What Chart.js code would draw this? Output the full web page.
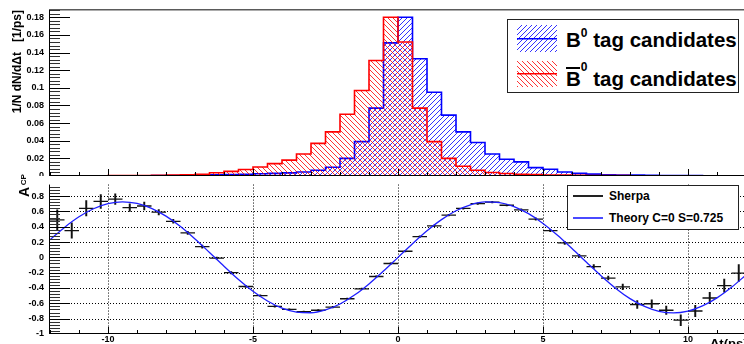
<!DOCTYPE html>
<html><head><meta charset="utf-8">
<script src="https://cdn.jsdelivr.net/npm/chart.js@4.4.1/dist/chart.umd.min.js"></script>
<style>
html,body{margin:0;padding:0;background:#fff;overflow:hidden;}
#wrap{position:relative;width:744px;height:344px;overflow:hidden;background:#fff;}
#cTop,#cBot{position:absolute;left:0;}
#cTop{top:0;}
#cBot{top:176px;}
.f{font-family:'Liberation Sans',Arial,Helvetica,sans-serif;font-weight:bold;color:#000;}
#lg1{position:absolute;left:507px;top:19px;width:232px;height:74px;border:1px solid #222;box-sizing:border-box;background:#fff;}
#lg1 canvas{position:absolute;}
.lt{position:absolute;white-space:nowrap;font-size:20.5px;line-height:20.5px;}
.sup{position:relative;font-size:12px;}
#lg2{position:absolute;left:567px;top:185px;width:172px;height:45px;border:1px solid #222;box-sizing:border-box;background:#fff;}
.sw{position:absolute;}
.lt2{position:absolute;white-space:nowrap;font-size:12px;line-height:14px;}
#acp{position:absolute;left:16.5px;top:196.7px;transform-origin:0 0;transform:rotate(-90deg);font-size:14px;line-height:14px;white-space:nowrap;}
#xt{position:absolute;left:710px;top:336.6px;font-size:13px;line-height:13px;white-space:nowrap;}
</style></head><body>
<div id="wrap">
<canvas id="cTop" width="760" height="176"></canvas>
<canvas id="cBot" width="760" height="168"></canvas>
<div id="lg1" class="f">
 <canvas id="sw1" width="40" height="27" style="left:9px;top:5px"></canvas>
 <canvas id="sw2" width="40" height="26" style="left:9px;top:41px"></canvas>
 <div class="lt" style="left:58px;top:10.15px">B<span class="sup" style="top:-9.8px">0</span> tag candidates</div>
 <div class="lt" style="left:58px;top:49.15px"><span style="position:relative">B<span style="position:absolute;left:0;right:1px;top:0;height:2px;background:#000"></span></span><span class="sup" style="top:-14.8px">0</span> tag candidates</div>
</div>
<div id="lg2" class="f">
 <div class="sw" style="left:4.7px;top:9px;width:30.3px;height:1.5px;background:#222"></div>
 <div class="sw" style="left:4.7px;top:31.3px;width:30.3px;height:2px;background:#4a4aff"></div>
 <div class="lt2" style="left:41px;top:2.7px">Sherpa</div>
 <div class="lt2" style="left:41px;top:25.3px">Theory C=0 S=0.725</div>
</div>
<div id="acp" class="f">A<span style="font-size:8px;position:relative;top:-3.3px;margin-left:1.5px">CP</span></div>
<div id="xt" class="f">Δt(ps)</div>
</div>
<script>
const FONT = "'Liberation Sans', Arial, Helvetica, sans-serif";

// histogram bin edges (ps)
const binEdges = [-12,-11.5,-11,-10.5,-10,-9.5,-9,-8.5,-8,-7.5,-7,-6.5,-6,-5.5,-5,-4.5,-4,-3.5,-3,-2.5,-2,-1.5,-1,-0.5,0,0.5,1,1.5,2,2.5,3,3.5,4,4.5,5,5.5,6,6.5,7,7.5,8,8.5,9,9.5,10,10.5,11,11.5,12];
// B0 tag candidates (1/N dN/dDt)
const b0Tag = [0.0001,0.0001,0.0001,0.0001,0.0002,0.0002,0.0003,0.0004,0.0006,0.0008,0.001,0.0013,0.0016,0.002,0.0025,0.003,0.0036,0.0045,0.0065,0.010,0.020,0.039,0.077,0.151,
               0.180,0.133,0.095,0.069,0.050,0.038,0.025,0.019,0.016,0.0095,0.0076,0.0045,0.003,0.0021,0.0015,0.0012,0.001,0.0008,0.0006,0.0005,0.0004,0.0003,0.0002,0.0002];
// B0bar tag candidates
const b0barTag = [0.0002,0.0002,0.0003,0.0003,0.0004,0.0005,0.0006,0.0008,0.001,0.0014,0.002,0.0037,0.0053,0.0074,0.0102,0.014,0.018,0.025,0.037,0.050,0.070,0.097,0.131,0.180,
                  0.152,0.077,0.039,0.020,0.011,0.0065,0.004,0.0028,0.002,0.0016,0.0012,0.001,0.0008,0.0006,0.0005,0.0004,0.0003,0.0003,0.0002,0.0002,0.0001,0.0001,0.0001,0.0001];
const topTickLabels = [0,0.02,0.04,0.06,0.08,0.1,0.12,0.14,0.16,0.18];

// A_CP (Sherpa) points
const acpCenters = [-11.75,-11.25,-10.75,-10.25,-9.75,-9.25,-8.75,-8.25,-7.75,-7.25,-6.75,-6.25,-5.75,-5.25,-4.75,-4.25,-3.75,-3.25,-2.75,-2.25,-1.75,-1.25,-0.75,-0.25,
                    0.25,0.75,1.25,1.75,2.25,2.75,3.25,3.75,4.25,4.75,5.25,5.75,6.25,6.75,7.25,7.75,8.25,8.75,9.25,9.75,10.25,10.75,11.25,11.75];
const acpSherpa = [0.49,0.35,0.64,0.73,0.76,0.65,0.67,0.59,0.47,0.32,0.14,-0.01,-0.20,-0.38,-0.50,-0.64,-0.68,-0.71,-0.69,-0.65,-0.54,-0.41,-0.25,-0.08,
                   0.08,0.27,0.41,0.55,0.64,0.70,0.72,0.68,0.62,0.50,0.35,0.19,0.02,-0.12,-0.27,-0.385,-0.615,-0.605,-0.69,-0.82,-0.70,-0.53,-0.37,-0.205];
const acpSherpaErr = [0.13,0.10,0.10,0.09,0.07,0.05,0.05,0.035,0.025,0.02,0.02,0.015,0.015,0.012,0.01,0.01,0.01,0.01,0.01,0.01,0.01,0.01,0.01,0.01,
                      0.01,0.01,0.01,0.01,0.01,0.01,0.01,0.01,0.012,0.015,0.015,0.02,0.02,0.025,0.025,0.035,0.05,0.05,0.055,0.07,0.075,0.075,0.085,0.11];
// Theory C=0 S=0.725 curve
const theoryT = [-12,-11.5,-11,-10.5,-10,-9.5,-9,-8.5,-8,-7.5,-7,-6.5,-6,-5.5,-5,-4.5,-4,-3.5,-3,-2.5,-2,-1.5,-1,-0.5,0,
                 0.5,1,1.5,2,2.5,3,3.5,4,4.5,5,5.5,6,6.5,7,7.5,8,8.5,9,9.5,10,10.5,11,11.5,12];
const theoryA = [0.229,0.391,0.529,0.634,0.701,0.725,0.704,0.640,0.538,0.402,0.240,0.064,-0.115,-0.289,-0.443,-0.570,-0.663,-0.715,-0.723,-0.686,-0.608,-0.492,-0.346,-0.178,0,
                 0.178,0.346,0.492,0.608,0.686,0.723,0.715,0.663,0.570,0.443,0.289,0.115,-0.064,-0.240,-0.402,-0.538,-0.640,-0.704,-0.725,-0.701,-0.634,-0.529,-0.391,-0.229];
const botTickLabels = [-1,-0.8,-0.6,-0.4,-0.2,0,0.2,0.4,0.6,0.8];
const xTickLabels = [-10,-5,0,5,10];

function hatch(g, color, dir){
  const s=5, c=document.createElement('canvas'); c.width=s; c.height=s;
  const h=c.getContext('2d'); h.fillStyle=color;
  for(let i=0;i<s;i++) h.fillRect(i, dir>0 ? s-1-i : i, 1, 1);
  return g.createPattern(c,'repeat');
}
function steps(vals){
  const d = vals.map((v,i)=>({x:binEdges[i], y:v}));
  d.push({x:binEdges[binEdges.length-1], y:vals[vals.length-1]});
  return d;
}
function swatch(id,color,line,dir){
  const c=document.getElementById(id), g=c.getContext('2d');
  g.fillStyle=hatch(g,color,dir); g.fillRect(0,0,c.width,c.height);
  g.fillStyle=line; g.fillRect(0,Math.round(c.height/2)-1,c.width,1.5);
}
const BLUE_H='rgba(0,0,255,0.8)', RED_H='rgba(255,0,0,0.8)';
swatch('sw1',BLUE_H,'#0000ff',1); swatch('sw2',RED_H,'#ff0000',-1);

function drawYTicks(ctx,a,y,step,max){
  for(let k=0;;k++){
    const v=y.min+k*step; if(v>max+1e-9) break;
    const py=Math.round(y.getPixelForValue(v));
    if(py>=a.bottom-1) continue;
    const major=(k%5===0);
    ctx.fillStyle=major?'#000':'#333';
    ctx.fillRect(a.left, py, major?20:10, 1);
  }
}
function drawXTicks(ctx,a,x){
  for(let t=-12;t<=12;t++){
    const px=Math.round(x.getPixelForValue(t));
    const major=(t%5===0);
    const len=major?6:3;
    ctx.fillStyle='#000';
    ctx.fillRect(px, a.bottom-1-len, 1, len);
  }
}

const topAxes = {
  id:'topAxes',
  afterDatasetsDraw(chart){
    const {ctx, chartArea:a, scales:{x,y}} = chart;
    ctx.save();
    ctx.fillStyle='#5a5a5a';
    ctx.fillRect(a.left-1, a.top-1, a.right-a.left+2, 1.5);
    ctx.fillStyle='#000';
    ctx.fillRect(a.left-1, a.top, 1, a.bottom-a.top);
    ctx.fillRect(a.left-1, a.bottom-1, a.right-a.left+1, 1);
    drawYTicks(ctx,a,y,0.004,0.1883);
    drawXTicks(ctx,a,x);
    ctx.restore();
  }
};
const botAxes = {
  id:'botAxes',
  beforeDatasetsDraw(chart){
    const {ctx, chartArea:a, scales:{x,y}} = chart;
    ctx.save(); ctx.strokeStyle='#000'; ctx.lineWidth=1; ctx.setLineDash([1,2]);
    for(const v of botTickLabels){
      if(v<=-1) continue;
      const py=Math.round(y.getPixelForValue(v))+0.5;
      ctx.beginPath(); ctx.moveTo(a.left,py); ctx.lineTo(a.right,py); ctx.stroke();
    }
    for(const v of xTickLabels){
      const px=Math.round(x.getPixelForValue(v))+0.5;
      ctx.beginPath(); ctx.moveTo(px,a.top); ctx.lineTo(px,a.bottom); ctx.stroke();
    }
    ctx.restore();
  },
  afterDatasetsDraw(chart){
    const {ctx, chartArea:a, scales:{x,y}} = chart;
    ctx.save();
    ctx.fillStyle='#000';
    ctx.fillRect(a.left-1, a.top, 1, a.bottom-a.top);
    ctx.fillRect(a.left-1, a.bottom-1, a.right-a.left+1, 1);
    drawYTicks(ctx,a,y,0.04,0.95);
    drawXTicks(ctx,a,x);
    ctx.restore();
  }
};

const cTop=document.getElementById('cTop');
const gTop=cTop.getContext('2d');
new Chart(cTop,{
  type:'line',
  data:{datasets:[
    {label:'B0 tag candidates', data:steps(b0Tag), stepped:true, borderColor:'#0000ff', borderWidth:1.6,
     backgroundColor:hatch(gTop,BLUE_H,1), fill:'origin', pointRadius:0, order:1},
    {label:'B0bar tag candidates', data:steps(b0barTag), stepped:true, borderColor:'#ff0000', borderWidth:1.6,
     backgroundColor:hatch(gTop,RED_H,-1), fill:'origin', pointRadius:0, order:0}
  ]},
  options:{
    responsive:false, animation:false, events:[],
    layout:{padding:{top:10,right:14,bottom:0,left:0}},
    plugins:{legend:{display:false}, tooltip:{enabled:false}},
    scales:{
      x:{type:'linear', min:-12, max:12, display:false},
      y:{type:'linear', min:0, max:0.1883,
        afterBuildTicks:s=>{s.ticks=topTickLabels.map(v=>({value:v}));},
        ticks:{color:'#000', font:{family:FONT,size:9,weight:'bold'}, padding:6, callback:v=>String(+(+v).toFixed(2))},
        grid:{display:false, drawTicks:false}, border:{display:false},
        title:{display:true, text:'1/N dN/d\u0394t   [1/ps]', align:'end', color:'#000',
               font:{family:FONT,size:12,weight:'bold'}, padding:{top:10,bottom:0}},
        afterFit:s=>{s.width=50; s.paddingTop=0; s.paddingBottom=0;}
      }
    }
  },
  plugins:[topAxes]
});

const cBot=document.getElementById('cBot');
new Chart(cBot,{
  type:'line',
  data:{datasets:[
    {type:'line', label:'Theory C=0 S=0.725', data:theoryT.map((t,i)=>({x:t,y:theoryA[i]})),
     borderColor:'#1f1fff', borderWidth:1.3, pointRadius:0, cubicInterpolationMode:'monotone', fill:false, order:0},
    {type:'line', label:'Sherpa', data:acpCenters.map((t,i)=>({x:t,y:acpSherpa[i]})), showLine:false,
     pointStyle:'line', pointRadius:7.25, pointBorderWidth:1.3, pointBorderColor:'#111', pointBackgroundColor:'#111', order:1},
    {type:'bar', label:'Sherpa errors', data:acpCenters.map((t,i)=>({x:t,y:[acpSherpa[i]-acpSherpaErr[i],acpSherpa[i]+acpSherpaErr[i]]})),
     backgroundColor:'#111', borderWidth:0, barThickness:1.3, order:2}
  ]},
  options:{
    responsive:false, animation:false, events:[],
    layout:{padding:{top:0,right:14,bottom:0,left:0}},
    plugins:{legend:{display:false}, tooltip:{enabled:false}},
    scales:{
      x:{type:'linear', min:-12, max:12, offset:false,
        afterBuildTicks:s=>{s.ticks=xTickLabels.map(v=>({value:v}));},
        ticks:{color:'#000', font:{family:FONT,size:9,weight:'bold'}, padding:0, maxRotation:0, autoSkip:false, callback:v=>String(v)},
        grid:{display:false, drawTicks:false, offset:false}, border:{display:false},
        afterFit:s=>{s.height=10; s.paddingLeft=0; s.paddingRight=0;}
      },
      y:{type:'linear', min:-1, max:0.95, beginAtZero:false,
        afterBuildTicks:s=>{s.ticks=botTickLabels.map(v=>({value:v}));},
        ticks:{color:'#000', font:{family:FONT,size:9,weight:'bold'}, padding:6, callback:v=>String(+(+v).toFixed(1))},
        grid:{display:false, drawTicks:false}, border:{display:false},
        afterFit:s=>{s.width=50; s.paddingTop=0; s.paddingBottom=0;}
      }
    }
  },
  plugins:[botAxes]
});
</script>
</body></html>
